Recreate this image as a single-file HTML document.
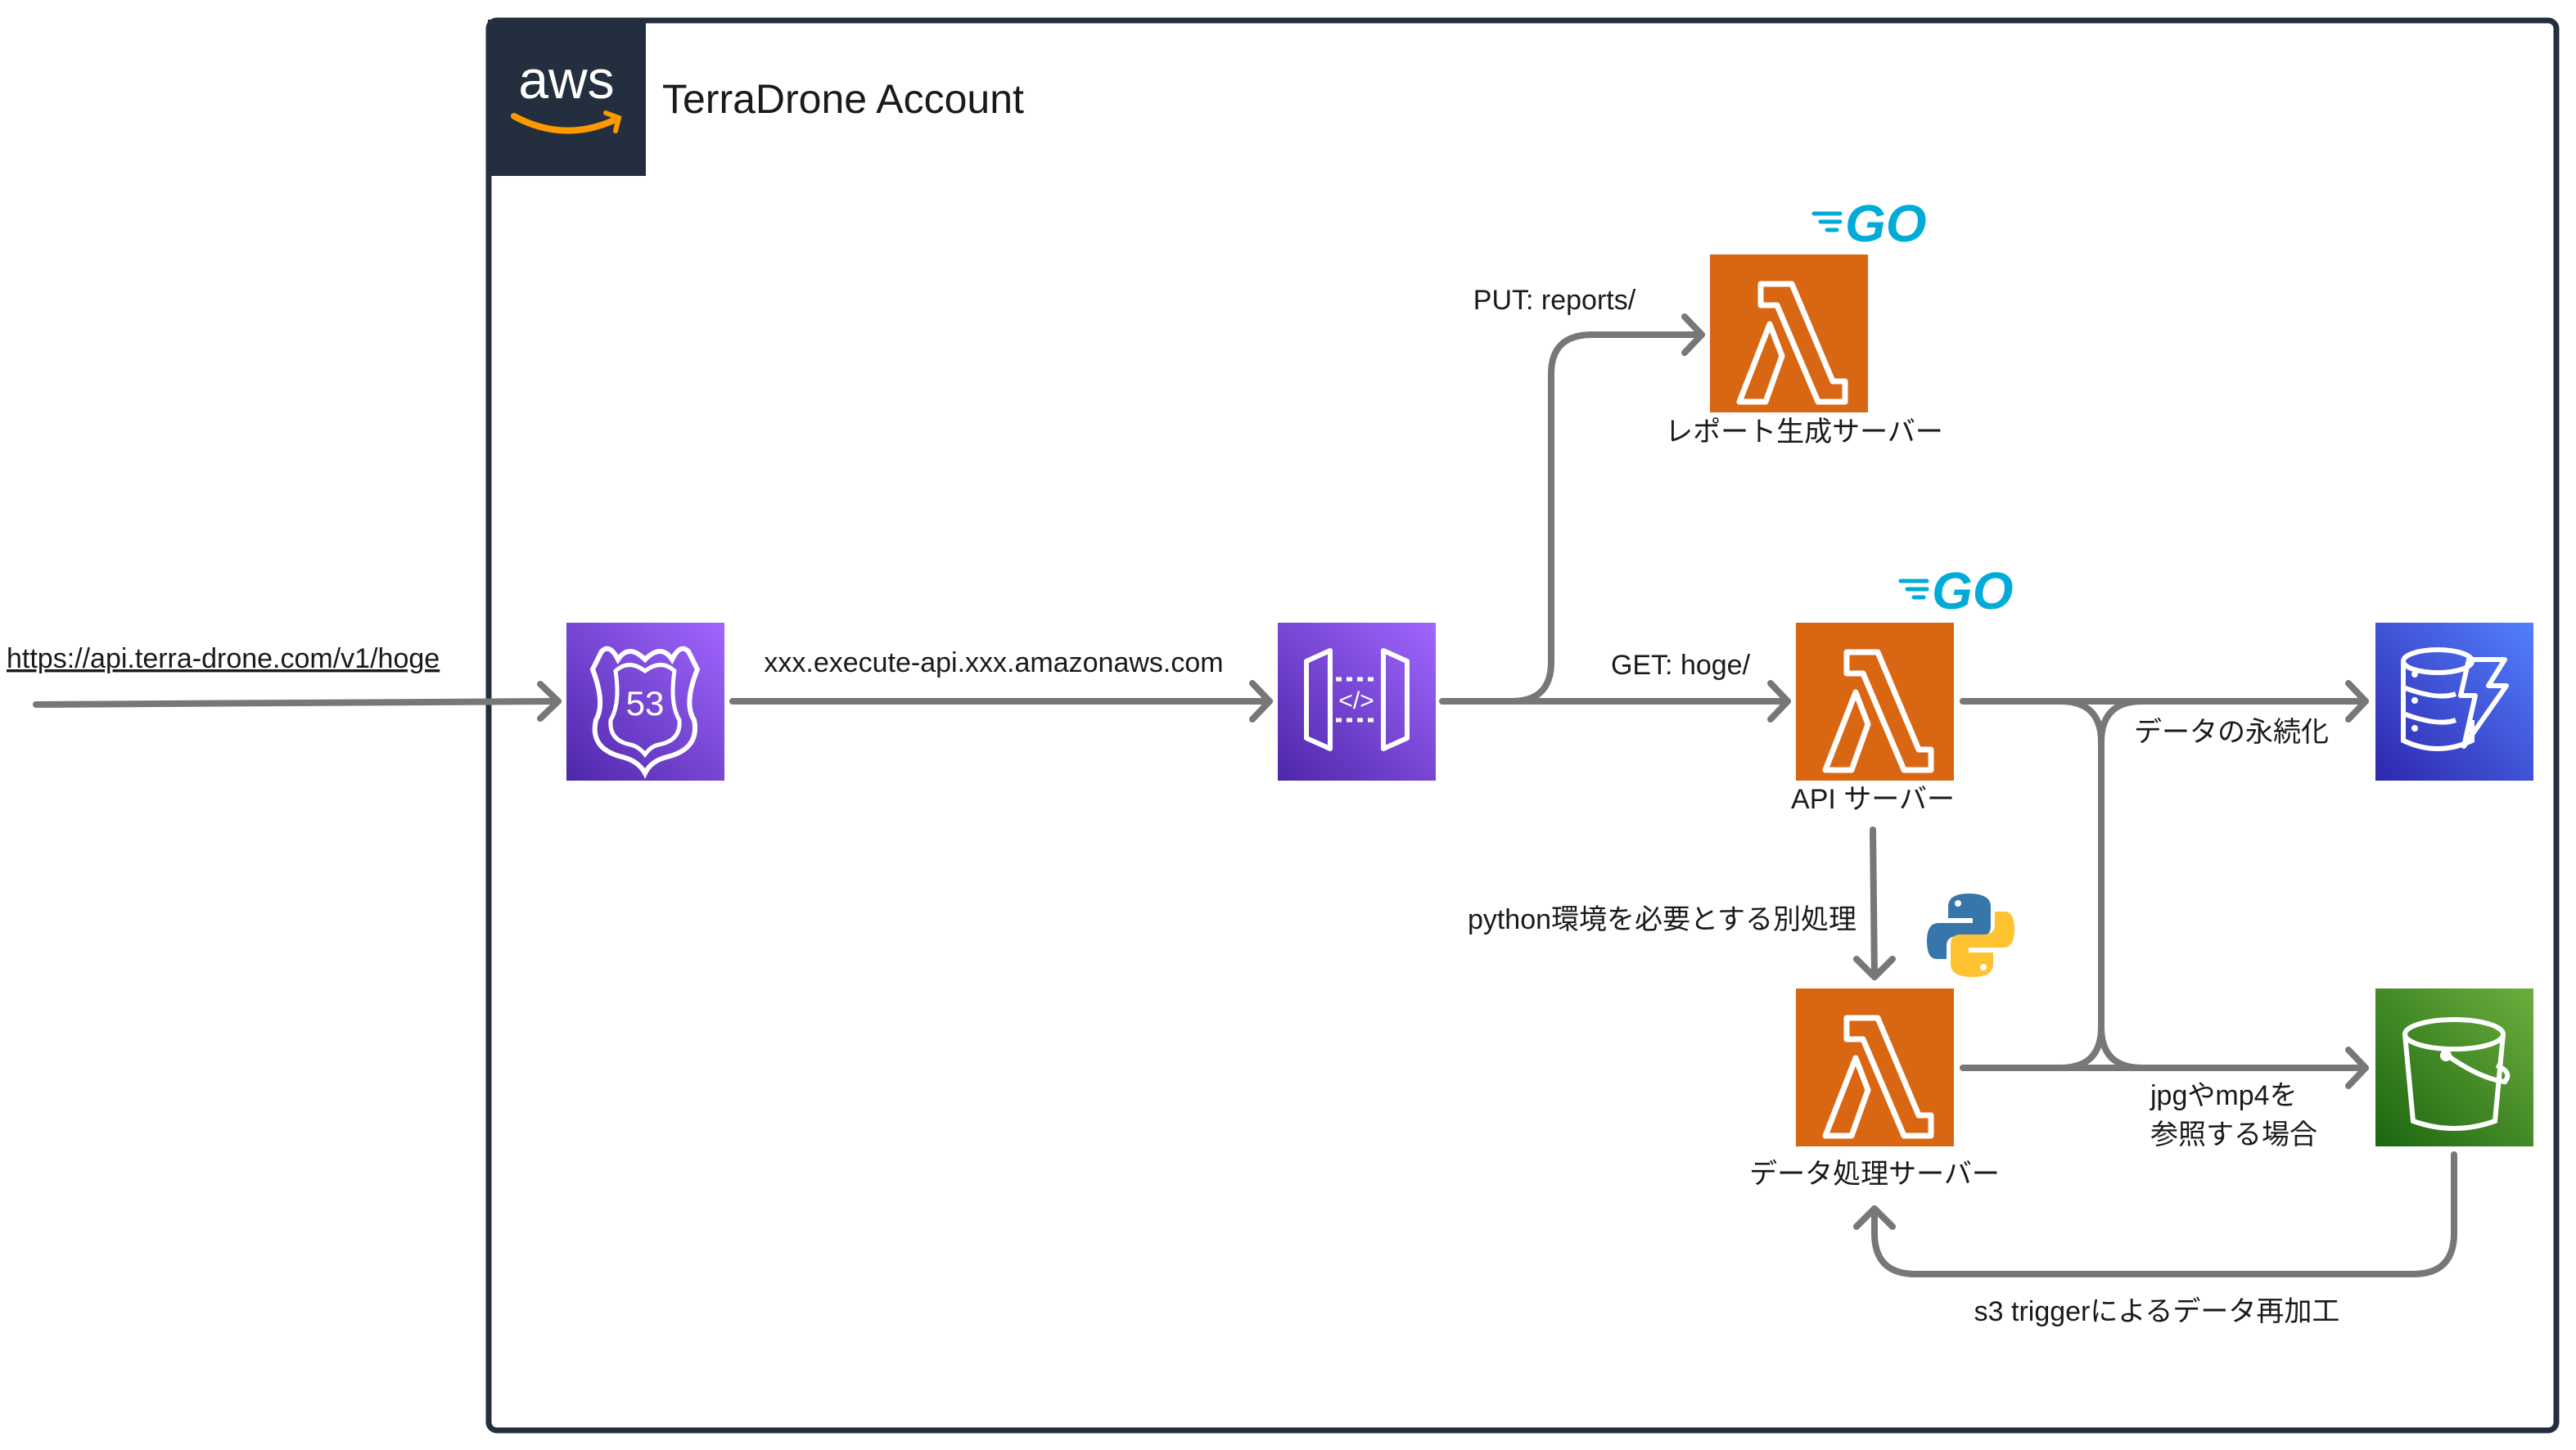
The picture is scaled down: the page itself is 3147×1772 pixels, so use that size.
<!DOCTYPE html>
<html><head><meta charset="utf-8"><style>
html,body{margin:0;padding:0;background:#fff;}
svg{display:block;}
text{font-family:"Liberation Sans","Noto Sans CJK JP",sans-serif;fill:#1a1a1a;}
</style></head><body>
<svg width="3147" height="1772" viewBox="0 0 3147 1772" xmlns="http://www.w3.org/2000/svg">
<defs>
<linearGradient id="pur" x1="0" y1="1" x2="1" y2="0"><stop offset="0" stop-color="#4D27A8"/><stop offset="1" stop-color="#A166FF"/></linearGradient>
<linearGradient id="blu" x1="0" y1="1" x2="1" y2="0"><stop offset="0" stop-color="#2E27AD"/><stop offset="1" stop-color="#527FFF"/></linearGradient>
<linearGradient id="grn" x1="0" y1="1" x2="1" y2="0"><stop offset="0" stop-color="#1B660F"/><stop offset="1" stop-color="#6CAE3E"/></linearGradient>
<g id="lam"><rect width="193" height="193" fill="#D86613"/>
<path d="M62 36 H100 L150 155 H165 V180 H132 L82 62 H62 Z M73 85 L88 124 L68 180 H36 Z" fill="none" stroke="#fff" stroke-width="7" stroke-linejoin="round"/></g>
<g id="go"><text x="40" y="54" font-size="64" font-weight="bold" font-style="italic" style="fill:#00ACD7" font-family="Liberation Sans,sans-serif">GO</text>
<path d="M2 20 H34 M10 30 H34 M18 40 H30" stroke="#00ACD7" stroke-width="5" stroke-linecap="round"/></g>
</defs>
<rect x="597" y="25" width="2526" height="1723" rx="10" fill="none" stroke="#232F3E" stroke-width="7"/>
<rect x="596" y="24" width="193" height="191" fill="#232F3E"/>
<text x="692" y="120" font-size="66" text-anchor="middle" style="fill:#fff">aws</text>
<path d="M628 142 Q690 175 752 146" fill="none" stroke="#FF9900" stroke-width="8" stroke-linecap="round"/>
<path d="M740 138 L756 144 L752 160" fill="none" stroke="#FF9900" stroke-width="6" stroke-linecap="round"/>
<text x="809" y="138" font-size="50">TerraDrone Account</text>

<rect x="692" y="761" width="193" height="193" fill="url(#pur)"/>
<path d="M735 796 Q745 786 755 806 Q768 786 788 806 Q808 786 821 806 Q831 786 841 796 L852 818 Q835 860 848 880 Q855 915 815 925 Q795 930 788 945 Q780 930 760 925 Q720 915 728 880 Q740 860 724 818 Z" fill="none" stroke="#fff" stroke-width="6"/>
<path d="M752 820 Q768 805 788 820 Q808 805 824 820 Q818 860 830 880 Q832 905 805 910 Q795 912 788 922 Q780 912 770 910 Q744 905 746 880 Q758 860 752 820 Z" fill="none" stroke="#fff" stroke-width="5"/>
<text x="788" y="874" font-size="42" text-anchor="middle" style="fill:#fff">53</text>

<rect x="1561" y="761" width="193" height="193" fill="url(#pur)"/>
<path d="M1596 808 L1625 795 V915 L1596 902 Z M1719 808 L1690 795 V915 L1719 902 Z" fill="none" stroke="#fff" stroke-width="6" stroke-linejoin="round"/>
<path d="M1632 830 H1684 M1632 880 H1684" stroke="#fff" stroke-width="5" stroke-dasharray="7 6"/>
<text x="1657" y="866" font-size="30" text-anchor="middle" style="fill:#fff">&lt;/&gt;</text>

<use href="#lam" x="2089" y="311"/>
<use href="#lam" x="2194" y="761"/>
<use href="#lam" x="2194" y="1208"/>

<rect x="2902" y="761" width="193" height="193" fill="url(#blu)"/>
<g fill="none" stroke="#fff" stroke-width="6">
<ellipse cx="2978" cy="808" rx="42" ry="14"/>
<path d="M2936 808 V905 Q2978 925 3020 905 V880 M2936 840 Q2978 856 3000 848 M2936 872 Q2978 888 3000 880"/>
<path d="M3016 806 H3060 L3040 838 H3062 L3010 912 L3024 850 H3006 Z" stroke-linejoin="round"/>
</g>
<g fill="#fff"><circle cx="2950" cy="824" r="4"/><circle cx="2950" cy="856" r="4"/><circle cx="2950" cy="890" r="4"/></g>

<rect x="2902" y="1208" width="193" height="193" fill="url(#grn)"/>
<g fill="none" stroke="#fff" stroke-width="6">
<ellipse cx="2998" cy="1264" rx="60" ry="18"/>
<path d="M2938 1264 L2948 1370 Q2998 1388 3048 1370 L3058 1264"/>
<path d="M2990 1290 Q3030 1318 3060 1322 Q3070 1310 3050 1302"/>
</g>
<circle cx="2988" cy="1290" r="7" fill="#fff"/>

<use href="#go" x="2214" y="241"/>
<use href="#go" x="2320" y="690"/>
<path d="M2405 1092 Q2380 1092 2380 1108 V1122 H2410 V1128 H2368 Q2354 1128 2354 1150 Q2354 1172 2366 1172 H2378 V1156 Q2378 1144 2392 1144 H2420 Q2432 1144 2432 1132 V1108 Q2432 1092 2405 1092 Z" fill="#3776AB"/>
<path d="M2410 1194 Q2435 1194 2435 1178 V1164 H2405 V1158 H2447 Q2461 1158 2461 1136 Q2461 1114 2449 1114 H2437 V1130 Q2437 1142 2423 1142 H2395 Q2383 1142 2383 1154 V1178 Q2383 1194 2410 1194 Z" fill="#FFC331"/>
<circle cx="2392" cy="1104" r="4" fill="#fff"/><circle cx="2423" cy="1182" r="4" fill="#fff"/>

<g fill="none" stroke="#777" stroke-width="8" stroke-linecap="round" stroke-linejoin="round">
<path d="M44 861 L682 857"/><path d="M660 836 L682 857 L660 878"/>
<path d="M895 857 H1551"/><path d="M1530 835 L1551 857 L1530 879"/>
<path d="M1762 857 H2184"/><path d="M2163 835 L2184 857 L2163 879"/>
<path d="M1847 857 Q1895 857 1895 809 V457 Q1895 409 1945 409 H2079"/><path d="M2058 387 L2079 409 L2058 431"/>
<path d="M2398 857 H2890"/><path d="M2869 835 L2890 857 L2869 879"/>
<path d="M2398 1305 H2890"/><path d="M2869 1283 L2890 1305 L2869 1327"/>
<path d="M2517 857 Q2567 857 2567 907 Q2567 857 2617 857 M2567 907 V1255 Q2567 1305 2517 1305 M2567 1255 Q2567 1305 2617 1305"/>
<path d="M2288 1014 L2290 1194"/><path d="M2268 1172 L2290 1194 L2312 1172"/>
<path d="M2998 1411 V1507 Q2998 1557 2948 1557 H2340 Q2290 1557 2290 1507 V1477"/><path d="M2268 1499 L2290 1477 L2312 1499"/>
</g>

<g font-size="34">
<text x="8" y="816" text-decoration="underline">https://api.terra-drone.com/v1/hoge</text>
<text x="1214" y="821" text-anchor="middle">xxx.execute-api.xxx.amazonaws.com</text>
<text x="2053" y="824" text-anchor="middle">GET: hoge/</text>
<text x="1899" y="378" text-anchor="middle">PUT: reports/</text>
<text x="2204" y="539" text-anchor="middle">レポート生成サーバー</text>
<text x="2288" y="988" text-anchor="middle">API サーバー</text>
<text x="2290" y="1446" text-anchor="middle">データ処理サーバー</text>
<text x="2268" y="1135" text-anchor="end">python環境を必要とする別処理</text>
<text x="2726" y="906" text-anchor="middle">データの永続化</text>
<text x="2627" y="1350">jpgやmp4を</text>
<text x="2627" y="1398">参照する場合</text>
<text x="2635" y="1614" text-anchor="middle">s3 triggerによるデータ再加工</text>
</g>
</svg>
</body></html>
